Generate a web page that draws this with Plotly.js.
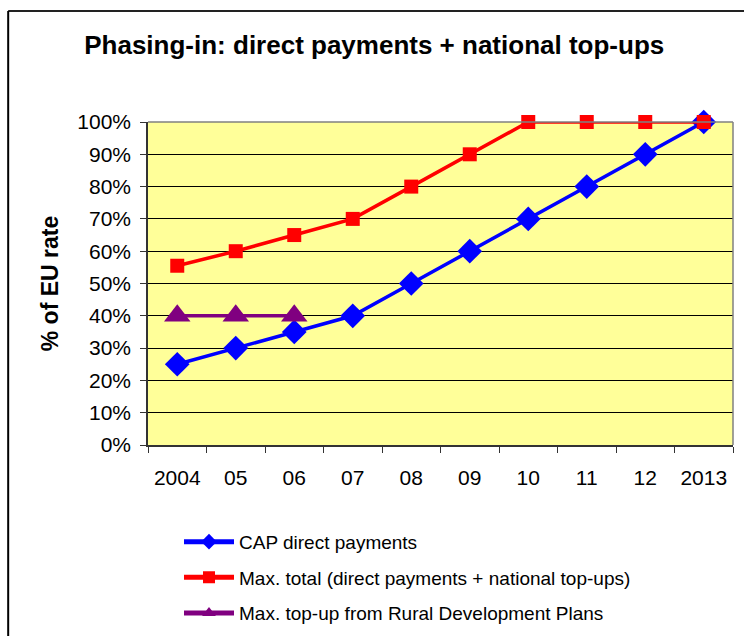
<!DOCTYPE html>
<html>
<head>
<meta charset="utf-8">
<script src="https://cdn.plot.ly/plotly-3.0.1.min.js"></script>
<style>
  body { margin: 0; background: #fff; }
  #plot { width: 744px; height: 636px; }
</style>
</head>
<body>
<div id="plot"></div>
<script>
// years on the x axis
var years = ["2004", "05", "06", "07", "08", "09", "10", "11", "12", "2013"];

// % of EU rate
var capDirect = [25, 30, 35, 40, 50, 60, 70, 80, 90, 100];
var maxTotal = [55.5, 60, 65, 70, 80, 90, 100, 100, 100, 100];
var ruralTopUp = [40, 40, 40];

var trace1 = {
  x: years,
  y: capDirect,
  name: "CAP direct payments",
  legendgroup: "a",
  type: "scatter",
  mode: "lines+markers",
  cliponaxis: false,
  line: { color: "#0000FF", width: 3.5 },
  marker: { symbol: "diamond", size: 19, color: "#0000FF" }
};

var trace2 = {
  x: years,
  y: maxTotal,
  name: "Max. total (direct payments + national top-ups)",
  legendgroup: "b",
  type: "scatter",
  mode: "lines+markers",
  cliponaxis: false,
  line: { color: "#FF0000", width: 3.5 },
  marker: { symbol: "square", size: 14, color: "#FF0000" }
};

var trace3 = {
  x: years.slice(0, 3),
  y: ruralTopUp,
  name: "Max. top-up from Rural Development Plans",
  legendgroup: "c",
  type: "scatter",
  mode: "lines+markers",
  cliponaxis: false,
  line: { color: "#800080", width: 3.5 },
  marker: { symbol: "triangle-up", size: 23, color: "#800080" }
};

var data = [trace1, trace2, trace3];

var layout = {
  width: 744,
  height: 636,
  margin: { l: 148, r: 11, t: 122, b: 191 },
  paper_bgcolor: "#FFFFFF",
  plot_bgcolor: "#FFFF99",
  font: { family: "Liberation Sans, Arial, sans-serif", color: "#000", size: 21 },
  title: {
    text: "<b>Phasing-in: direct payments + national top-ups</b>",
    font: { size: 26, color: "#000" },
    x: 0.503,
    xanchor: "center",
    y: 0.93,
    yanchor: "middle"
  },
  xaxis: {
    type: "category",
    showline: true,
    linecolor: "#333",
    linewidth: 1.5,
    ticks: "outside",
    tickson: "boundaries",
    ticklen: 6,
    tickcolor: "#333",
    showgrid: false,
    tickfont: { size: 21 },
    ticklabelstandoff: 13,
    range: [-0.5, 9.5]
  },
  yaxis: {
    range: [0, 100],
    dtick: 10,
    ticksuffix: "%",
    showline: true,
    linecolor: "#333",
    linewidth: 1.5,
    ticks: "outside",
    ticklen: 6,
    tickcolor: "#333",
    gridcolor: "#000",
    gridwidth: 1,
    zeroline: false,
    tickfont: { size: 21 },
    ticklabelstandoff: 5,
    title: { text: "<b>% of EU rate</b>", font: { size: 23 }, standoff: 12 }
  },
  showlegend: true,
  legend: {
    xref: "paper",
    x: 0.053,
    xanchor: "left",
    yref: "container",
    y: 0.178,
    yanchor: "top",
    traceorder: "grouped",
    tracegroupgap: 8,
    itemwidth: 50,
    itemsizing: "constant",
    font: { size: 19 },
    bgcolor: "rgba(0,0,0,0)"
  },
  shapes: [
    // grey border on top and right of the plot area
    { type: "line", xref: "paper", yref: "paper", x0: 0, x1: 1, y0: 1, y1: 1,
      line: { color: "#808080", width: 1.5 } },
    { type: "line", xref: "paper", yref: "paper", x0: 1, x1: 1, y0: 0, y1: 1,
      line: { color: "#808080", width: 1.5 } },
    // outer frame (slide box)
    { type: "line", xref: "paper", yref: "paper", x0: -0.239, x1: 1.1, y0: 1.344, y1: 1.344,
      line: { color: "#222", width: 2 } },
    { type: "line", xref: "paper", yref: "paper", x0: -0.239, x1: -0.239, y0: 1.344, y1: -0.7,
      line: { color: "#000", width: 2 } }
  ]
};

Plotly.newPlot("plot", data, layout, { displayModeBar: false });
</script>
</body>
</html>
